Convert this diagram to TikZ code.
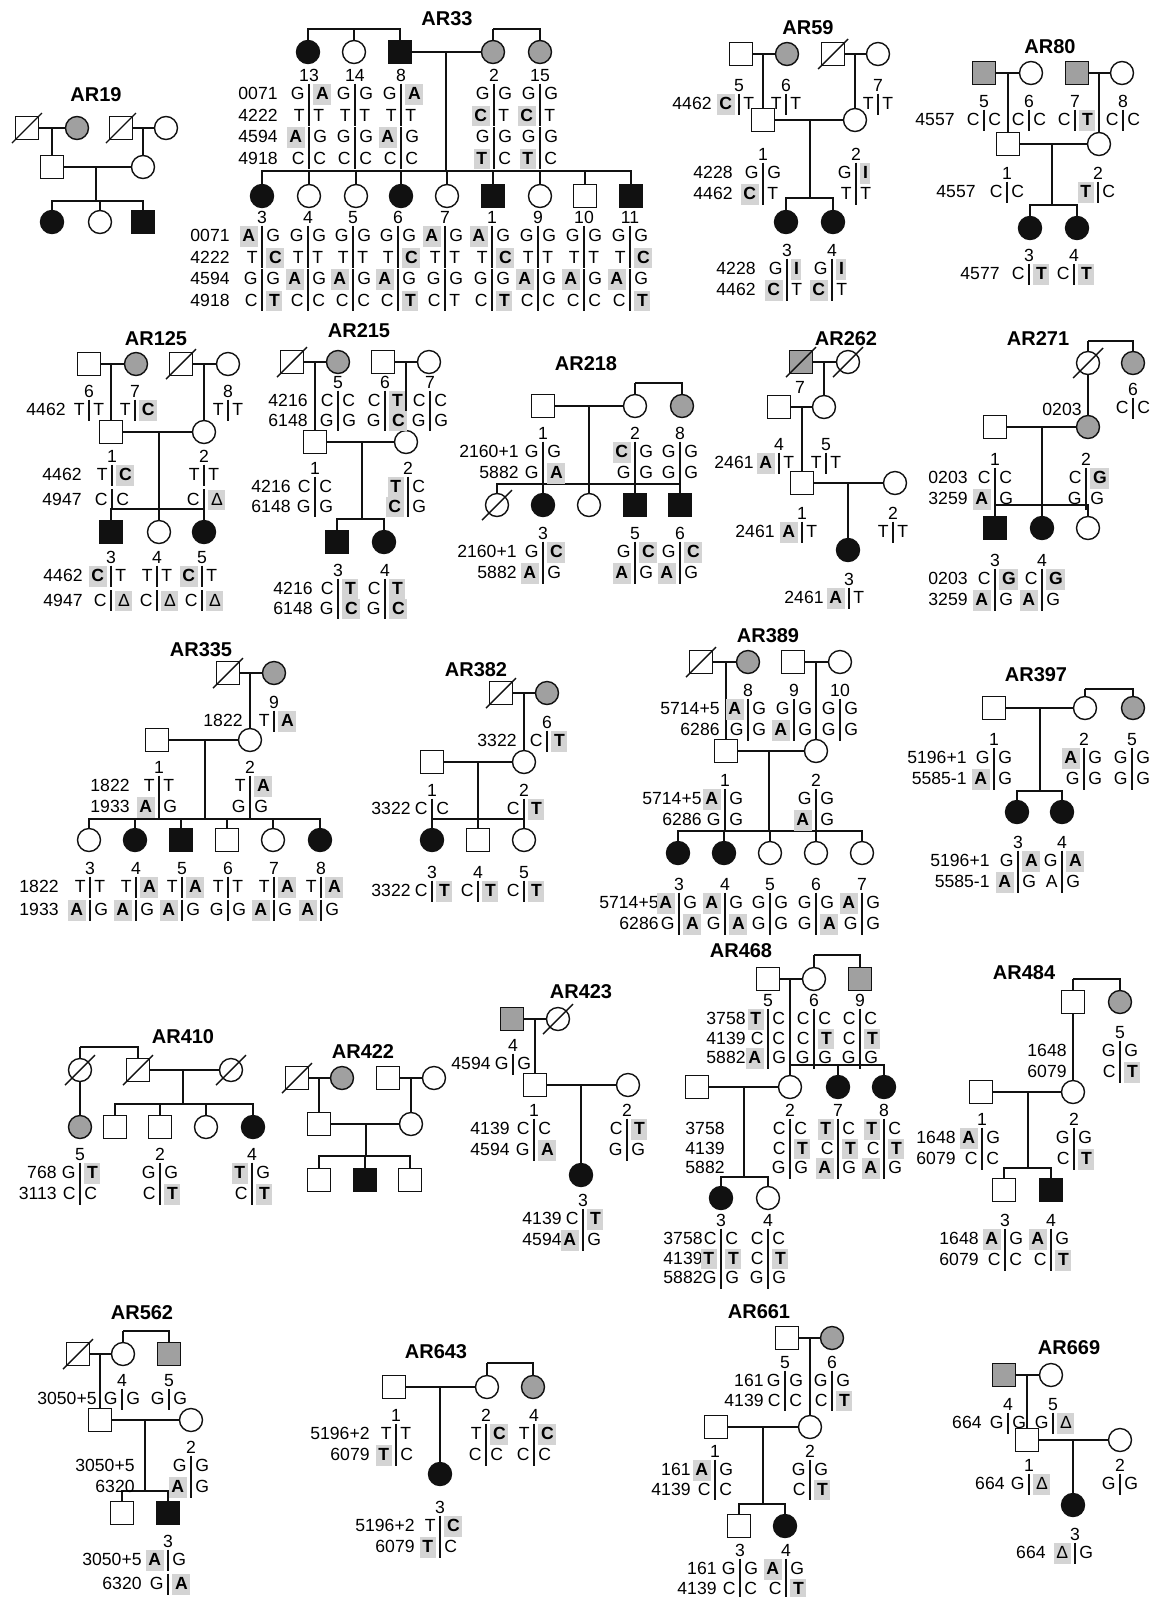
\documentclass[tikz,border=0pt]{standalone}
\usepackage{fontspec}
\setmainfont{Liberation Sans}
\definecolor{pedInk}{HTML}{111111}
\definecolor{pedCarrier}{HTML}{A0A0A0}
\definecolor{pedShade}{HTML}{D4D4D4}
\newcommand{\mut}[1]{{\setlength{\fboxsep}{0pt}\colorbox{pedShade}{\hspace{1.3pt}\rule[-2.6pt]{0pt}{10.2pt}\textbf{#1}\hspace{1.3pt}}}}
\newcommand{\mutd}{{\setlength{\fboxsep}{0pt}\colorbox{pedShade}{\hspace{1.3pt}\rule[-2.6pt]{0pt}{10.2pt}Δ\hspace{1.3pt}}}}
\newcommand{\gtpitch}{21}
\newcounter{gtno}
% bar x, centre of first row, number, list of left/right alleles
\newcommand{\gt}[4]{%
  \stepcounter{gtno}%
  \node[idno] (gt\arabic{gtno}) at (#1,#2-11.5) {#3};
  \foreach \la/\ra [count=\k from 0] in {#4}{%
    \node[allele,anchor=base east] (gt\arabic{gtno}l\k) at (#1-4,#2+6.5+\gtpitch*\k) {\la};
    \node[allele,anchor=base west] (gt\arabic{gtno}r\k) at (#1+4,#2+6.5+\gtpitch*\k) {\ra};
    \draw[genobar] (#1,#2-9.5+\gtpitch*\k) -- (#1,#2+11.5+\gtpitch*\k);
  }}
% right edge, centre of first row, list of loci
\newcommand{\loci}[3]{%
  \stepcounter{gtno}%
  \foreach \lb [count=\k from 0] in {#3}{%
    \node[locus] (lc\arabic{gtno}n\k) at (#1,#2+6.5+\gtpitch*\k) {\lb};}}

\begin{document}
\begin{tikzpicture}[
    x=0.5pt,y=-0.5pt,
    every node/.style={font=\fontsize{8.8}{10}\selectfont,inner sep=0pt},
    male/.style={draw=pedInk,rectangle,line width=0.7pt,minimum size=11.5pt},
    female/.style={draw=pedInk,circle,line width=0.7pt,minimum size=11.5pt},
    aff/.style={fill=pedInk},
    carrier/.style={fill=pedCarrier},
    slash/.style={draw=pedInk,line width=0.7pt},
    dead/.style={append after command={([shift={(-7.5pt,-7.5pt)}]\tikzlastnode.center) edge[slash] ([shift={(7.5pt,7.5pt)}]\tikzlastnode.center)}},
    title/.style={font=\bfseries\fontsize{10}{12}\selectfont},
    idno/.style={anchor=base},
    allele/.style={},
    locus/.style={anchor=base east},
    pedline/.style={draw=pedInk,line width=0.55pt},
    genobar/.style={draw=pedInk,line width=1.2pt}
]
\path[use as bounding box,fill=white] (0,0) rectangle (1159,1597);

% AR19
\node[title] (t19) at (96,95) {AR19};
\node[male,dead] (p19a) at (27,128) {};
\node[female,carrier] (p19b) at (77,128) {};
\node[male,dead] (p19c) at (121,128) {};
\node[female] (p19d) at (166,128) {};
\node[male] (p19e) at (52,167) {};
\node[female] (p19f) at (143,167) {};
\node[female,aff] (p19g) at (52,222) {};
\node[female] (p19h) at (100,222) {};
\node[male,aff] (p19i) at (143,222) {};
\coordinate (c19a) at (52,128);
\coordinate (c19b) at (143,128);
\coordinate (c19c) at (96,167);
\coordinate (s19) at (96,201);
\draw[pedline] (p19a) -- (p19b) (p19c) -- (p19d) (c19a) -- (p19e) (c19b) -- (p19f);
\draw[pedline] (p19e) -- (p19f) (c19c) -- (s19);
\foreach \c in {p19g,p19h,p19i} \draw[pedline] (s19) -| (\c);

% AR33
\renewcommand{\gtpitch}{21.5}
\node[title] (t33) at (447,19) {AR33};
\node[female,aff] (p33i13) at (308,52) {};
\node[female] (p33i14) at (354,52) {};
\node[male,aff] (p33i8) at (400,52) {};
\node[female,carrier] (p33i2) at (493,52) {};
\node[female,carrier] (p33i15) at (540,52) {};
\coordinate (c33a) at (354,29);
\coordinate (c33b) at (493,29);
\coordinate (c33c) at (446,52);
\coordinate (s33) at (446,171);
\draw[pedline] (c33a) -| (p33i13) (c33a) -| (p33i8) (c33a) -- (p33i14);
\draw[pedline] (c33b) -| (p33i15) (c33b) -- (p33i2);
\draw[pedline] (p33i8) -- (p33i2) (c33c) -- (s33);
\node[female,aff] (p33i3) at (262,196) {};
\node[female] (p33i4) at (309,196) {};
\node[female] (p33i5) at (356,196) {};
\node[female,aff] (p33i6) at (401,196) {};
\node[female] (p33i7) at (447,196) {};
\node[male,aff] (p33i1) at (493,196) {};
\node[female] (p33i9) at (540,196) {};
\node[male] (p33i10) at (585,196) {};
\node[male,aff] (p33i11) at (631,196) {};
\foreach \c in {p33i3,p33i4,p33i5,p33i6,p33i7,p33i1,p33i9,p33i10,p33i11} \draw[pedline] (s33) -| (\c);
\loci{278}{93}{0071,4222,4594,4918}
\gt{309}{93}{13}{G/\mut{A},T/T,\mut{A}/G,C/C}
\gt{355}{93}{14}{G/G,T/T,G/G,C/C}
\gt{401}{93}{8}{G/\mut{A},T/T,\mut{A}/G,C/C}
\gt{494}{93}{2}{G/G,\mut{C}/T,G/G,\mut{T}/C}
\gt{540}{93}{15}{G/G,\mut{C}/T,G/G,\mut{T}/C}
\loci{230}{235}{0071,4222,4594,4918}
\gt{262}{235}{3}{\mut{A}/G,T/\mut{C},G/G,C/\mut{T}}
\gt{308}{235}{4}{G/G,T/T,\mut{A}/G,C/C}
\gt{353}{235}{5}{G/G,T/T,\mut{A}/G,C/C}
\gt{398}{235}{6}{G/G,T/\mut{C},\mut{A}/G,C/\mut{T}}
\gt{445}{235}{7}{\mut{A}/G,T/T,G/G,C/T}
\gt{492}{235}{1}{\mut{A}/G,T/\mut{C},G/G,C/\mut{T}}
\gt{538}{235}{9}{G/G,T/T,\mut{A}/G,C/C}
\gt{584}{235}{10}{G/G,T/T,\mut{A}/G,C/C}
\gt{630}{235}{11}{G/G,T/\mut{C},\mut{A}/G,C/\mut{T}}
\renewcommand{\gtpitch}{21}

% AR59
\node[title] (t59) at (808,28) {AR59};
\node[male] (p59i5) at (741,54) {};
\node[female,carrier] (p59i6) at (787,54) {};
\node[male,dead] (p59a) at (833,54) {};
\node[female] (p59i7) at (878,54) {};
\node[male] (p59i1) at (763,120) {};
\node[female] (p59i2) at (855,120) {};
\node[female,aff] (p59i3) at (786,222) {};
\node[female,aff] (p59i4) at (833,222) {};
\coordinate (c59a) at (763,54);
\coordinate (c59b) at (855,54);
\coordinate (c59c) at (810,120);
\coordinate (s59) at (810,198);
\draw[pedline] (p59i5) -- (p59i6) (p59a) -- (p59i7) (c59a) -- (p59i1) (c59b) -- (p59i2);
\draw[pedline] (p59i1) -- (p59i2) (c59c) -- (s59);
\foreach \c in {p59i3,p59i4} \draw[pedline] (s59) -| (\c);
\loci{712}{103}{4462}
\gt{739}{103}{5}{\mut{C}/T}
\gt{786}{103}{6}{T/T}
\gt{878}{103}{7}{T/T}
\loci{733}{172}{4228,4462}
\gt{763}{172}{1}{G/G,\mut{C}/T}
\gt{856}{172}{2}{G/\mut{I},T/T}
\loci{756}{268}{4228,4462}
\gt{787}{268}{3}{G/\mut{I},\mut{C}/T}
\gt{832}{268}{4}{G/\mut{I},\mut{C}/T}

% AR80
\node[title] (t80) at (1050,47) {AR80};
\node[male,carrier] (p80i5) at (984,73) {};
\node[female] (p80i6) at (1031,73) {};
\node[male,carrier] (p80i7) at (1077,73) {};
\node[female] (p80i8) at (1122,73) {};
\node[male] (p80i1) at (1008,144) {};
\node[female] (p80i2) at (1099,144) {};
\node[female,aff] (p80i3) at (1030,228) {};
\node[female,aff] (p80i4) at (1077,228) {};
\coordinate (c80a) at (1008,73);
\coordinate (c80b) at (1099,73);
\coordinate (c80c) at (1052,144);
\coordinate (s80) at (1052,205);
\draw[pedline] (p80i5) -- (p80i6) (p80i7) -- (p80i8) (c80a) -- (p80i1) (c80b) -- (p80i2);
\draw[pedline] (p80i1) -- (p80i2) (c80c) -- (s80);
\foreach \c in {p80i3,p80i4} \draw[pedline] (s80) -| (\c);
\loci{955}{119}{4557}
\gt{984}{119}{5}{C/C}
\gt{1029}{119}{6}{C/C}
\gt{1075}{119}{7}{C/\mut{T}}
\gt{1123}{119}{8}{C/C}
\loci{976}{191}{4557}
\gt{1007}{191}{1}{C/C}
\gt{1098}{191}{2}{\mut{T}/C}
\loci{1000}{273}{4577}
\gt{1029}{273}{3}{C/\mut{T}}
\gt{1074}{273}{4}{C/\mut{T}}

% AR125
\node[title] (t125) at (156,339) {AR125};
\node[male] (p125i6) at (89,364) {};
\node[female,carrier] (p125i7) at (136,364) {};
\node[male,dead] (p125a) at (181,364) {};
\node[female] (p125i8) at (228,364) {};
\node[male] (p125i1) at (111,432) {};
\node[female] (p125i2) at (204,432) {};
\node[male,aff] (p125i3) at (111,532) {};
\node[female] (p125i4) at (159,532) {};
\node[female,aff] (p125i5) at (204,532) {};
\coordinate (c125a) at (111,364);
\coordinate (c125b) at (204,364);
\coordinate (c125c) at (159,432);
\coordinate (s125) at (159,509);
\draw[pedline] (p125i6) -- (p125i7) (p125a) -- (p125i8) (c125a) -- (p125i1) (c125b) -- (p125i2);
\draw[pedline] (p125i1) -- (p125i2) (c125c) -- (s125);
\foreach \c in {p125i3,p125i4,p125i5} \draw[pedline] (s125) -| (\c);
\loci{66}{409}{4462}
\gt{89}{409}{6}{T/T}
\gt{135}{409}{7}{T/\mut{C}}
\gt{228}{409}{8}{T/T}
\renewcommand{\gtpitch}{24.5}
\loci{82}{474}{4462,4947}
\gt{112}{474}{1}{T/\mut{C},C/C}
\gt{204}{474}{2}{T/T,C/\mutd}
\loci{83}{575}{4462,4947}
\gt{111}{575}{3}{\mut{C}/T,C/\mutd}
\gt{157}{575}{4}{T/T,C/\mutd}
\gt{202}{575}{5}{\mut{C}/T,C/\mutd}

% AR215
\renewcommand{\gtpitch}{19.5}
\node[title] (t215) at (359,331) {AR215};
\node[male,dead] (p215a) at (292,362) {};
\node[female,carrier] (p215i5) at (338,362) {};
\node[male] (p215i6) at (383,362) {};
\node[female] (p215i7) at (429,362) {};
\node[male] (p215i1) at (315,442) {};
\node[female] (p215i2) at (406,442) {};
\node[male,aff] (p215i3) at (337,542) {};
\node[female,aff] (p215i4) at (384,542) {};
\coordinate (c215a) at (315,362);
\coordinate (c215b) at (406,362);
\coordinate (c215c) at (362,442);
\coordinate (s215) at (362,519);
\draw[pedline] (p215a) -- (p215i5) (p215i6) -- (p215i7) (c215a) -- (p215i1) (c215b) -- (p215i2);
\draw[pedline] (p215i1) -- (p215i2) (c215c) -- (s215);
\foreach \c in {p215i3,p215i4} \draw[pedline] (s215) -| (\c);
\loci{308}{400}{4216,6148}
\gt{338}{400}{5}{C/C,G/G}
\gt{385}{400}{6}{C/\mut{T},G/\mut{C}}
\gt{430}{400}{7}{C/C,G/G}
\loci{291}{486}{4216,6148}
\gt{315}{486}{1}{C/C,G/G}
\gt{408}{486}{2}{\mut{T}/C,\mut{C}/G}
\loci{313}{588}{4216,6148}
\gt{338}{588}{3}{C/\mut{T},G/\mut{C}}
\gt{385}{588}{4}{C/\mut{T},G/\mut{C}}
\renewcommand{\gtpitch}{21}

% AR218
\node[title] (t218) at (586,364) {AR218};
\node[male] (p218i1) at (543,406) {};
\node[female] (p218i2) at (635,406) {};
\node[female,carrier] (p218i8) at (682,406) {};
\node[female,dead] (p218a) at (497,505) {};
\node[female,aff] (p218i3) at (543,505) {};
\node[female] (p218b) at (589,505) {};
\node[male,aff] (p218i5) at (635,505) {};
\node[male,aff] (p218i6) at (680,505) {};
\coordinate (c218a) at (635,383);
\coordinate (c218b) at (589,406);
\coordinate (s218) at (589,484);
\draw[pedline] (c218a) -| (p218i8) (c218a) -- (p218i2);
\draw[pedline] (p218i1) -- (p218i2) (c218b) -- (s218);
\foreach \c in {p218a,p218i3,p218b,p218i5,p218i6} \draw[pedline] (s218) -| (\c);
\loci{519}{451}{2160+1,5882}
\gt{543}{451}{1}{G/G,G/\mut{A}}
\gt{635}{451}{2}{\mut{C}/G,G/G}
\gt{680}{451}{8}{G/G,G/G}
\loci{517}{551}{2160+1,5882}
\gt{543}{551}{3}{G/\mut{C},\mut{A}/G}
\gt{635}{551}{5}{G/\mut{C},\mut{A}/G}
\gt{680}{551}{6}{G/\mut{C},\mut{A}/G}

% AR262
\node[title] (t262) at (846,339) {AR262};
\node[male,carrier,dead] (p262i7) at (801,362) {};
\node[female,dead] (p262a) at (848,362) {};
\node[idno] (n262) at (800,393) {7};
\node[male] (p262i4) at (779,407) {};
\node[female] (p262i5) at (824,407) {};
\node[male] (p262i1) at (802,483) {};
\node[female] (p262i2) at (895,483) {};
\node[female,aff] (p262i3) at (848,550) {};
\coordinate (c262a) at (824,362);
\coordinate (c262b) at (802,407);
\coordinate (c262c) at (848,483);
\draw[pedline] (p262i7) -- (p262a) (c262a) -- (p262i5);
\draw[pedline] (p262i4) -- (p262i5) (c262b) -- (p262i1);
\draw[pedline] (p262i1) -- (p262i2) (c262c) -- (p262i3);
\loci{754}{462}{2461}
\gt{779}{462}{4}{\mut{A}/T}
\gt{826}{462}{5}{T/T}
\loci{775}{531}{2461}
\gt{802}{531}{1}{\mut{A}/T}
\gt{893}{531}{2}{T/T}
\loci{824}{597}{2461}
\gt{849}{597}{3}{\mut{A}/T}

% AR271
\node[title] (t271) at (1038,339) {AR271};
\node[female,dead] (p271a) at (1088,363) {};
\node[female,carrier] (p271b) at (1133,363) {};
\node[male] (p271i1) at (995,427) {};
\node[female,carrier] (p271i2) at (1088,427) {};
\node[male,aff] (p271i3) at (995,528) {};
\node[female,aff] (p271i4) at (1042,528) {};
\node[female] (p271c) at (1088,528) {};
\coordinate (c271a) at (1088,341);
\coordinate (c271b) at (1042,427);
\coordinate (s271) at (1042,505);
\draw[pedline] (c271a) -| (p271b) (c271a) -- (p271a) (p271a) -- (p271i2);
\draw[pedline] (p271i1) -- (p271i2) (c271b) -- (s271);
\foreach \c in {p271i3,p271i4,p271c} \draw[pedline] (s271) -| (\c);
\loci{1082}{409}{0203}
\gt{1133}{407}{6}{C/C}
\loci{968}{477}{0203,3259}
\gt{995}{477}{1}{C/C,\mut{A}/G}
\gt{1086}{477}{2}{C/\mut{G},G/G}
\loci{968}{578}{0203,3259}
\gt{995}{578}{3}{C/\mut{G},\mut{A}/G}
\gt{1042}{578}{4}{C/\mut{G},\mut{A}/G}

% AR335
\node[title] (t335) at (201,650) {AR335};
\node[male,dead] (p335a) at (228,673) {};
\node[female,carrier] (p335i9) at (274,673) {};
\node[male] (p335i1) at (157,740) {};
\node[female] (p335i2) at (250,740) {};
\node[female] (p335i3) at (89,840) {};
\node[female,aff] (p335i4) at (135,840) {};
\node[male,aff] (p335i5) at (181,840) {};
\node[male] (p335i6) at (227,840) {};
\node[female] (p335i7) at (273,840) {};
\node[female,aff] (p335i8) at (320,840) {};
\coordinate (c335a) at (250,673);
\coordinate (c335b) at (205,740);
\coordinate (s335) at (205,819);
\draw[pedline] (p335a) -- (p335i9) (c335a) -- (p335i2);
\draw[pedline] (p335i1) -- (p335i2) (c335b) -- (s335);
\foreach \c in {p335i3,p335i4,p335i5,p335i6,p335i7,p335i8} \draw[pedline] (s335) -| (\c);
\loci{243}{720}{1822}
\gt{274}{720}{9}{T/\mut{A}}
\loci{130}{785}{1822,1933}
\gt{159}{785}{1}{T/T,\mut{A}/G}
\gt{250}{785}{2}{T/\mut{A},G/G}
\renewcommand{\gtpitch}{23}
\loci{59}{886}{1822,1933}
\gt{90}{886}{3}{T/T,\mut{A}/G}
\gt{136}{886}{4}{T/\mut{A},\mut{A}/G}
\gt{182}{886}{5}{T/\mut{A},\mut{A}/G}
\gt{228}{886}{6}{T/T,G/G}
\gt{274}{886}{7}{T/\mut{A},\mut{A}/G}
\gt{321}{886}{8}{T/\mut{A},\mut{A}/G}
\renewcommand{\gtpitch}{21}

% AR382
\node[title] (t382) at (476,670) {AR382};
\node[male,dead] (p382a) at (501,693) {};
\node[female,carrier] (p382i6) at (547,693) {};
\node[male] (p382i1) at (432,762) {};
\node[female] (p382i2) at (524,762) {};
\node[female,aff] (p382i3) at (432,840) {};
\node[male] (p382i4) at (478,840) {};
\node[female] (p382i5) at (524,840) {};
\coordinate (c382a) at (524,693);
\coordinate (c382b) at (478,762);
\coordinate (s382) at (478,819);
\draw[pedline] (p382a) -- (p382i6) (c382a) -- (p382i2);
\draw[pedline] (p382i1) -- (p382i2) (c382b) -- (s382);
\foreach \c in {p382i3,p382i4,p382i5} \draw[pedline] (s382) -| (\c);
\loci{517}{740}{3322}
\gt{547}{740}{6}{C/\mut{T}}
\loci{411}{808}{3322}
\gt{432}{808}{1}{C/C}
\gt{524}{808}{2}{C/\mut{T}}
\loci{411}{890}{3322}
\gt{432}{890}{3}{C/\mut{T}}
\gt{478}{890}{4}{C/\mut{T}}
\gt{524}{890}{5}{C/\mut{T}}

% AR389
\node[title] (t389) at (768,636) {AR389};
\node[male,dead] (p389a) at (701,662) {};
\node[female,carrier] (p389i8) at (748,662) {};
\node[male] (p389i9) at (793,662) {};
\node[female] (p389i10) at (840,662) {};
\node[male] (p389i1) at (726,751) {};
\node[female] (p389i2) at (816,751) {};
\node[female,aff] (p389i3) at (678,853) {};
\node[female,aff] (p389i4) at (724,853) {};
\node[female] (p389i5) at (770,853) {};
\node[female] (p389i6) at (816,853) {};
\node[female] (p389i7) at (862,853) {};
\coordinate (c389a) at (726,662);
\coordinate (c389b) at (816,662);
\coordinate (c389c) at (769,751);
\coordinate (s389) at (769,831);
\draw[pedline] (p389a) -- (p389i8) (p389i9) -- (p389i10) (c389a) -- (p389i1) (c389b) -- (p389i2);
\draw[pedline] (p389i1) -- (p389i2) (c389c) -- (s389);
\foreach \c in {p389i3,p389i4,p389i5,p389i6,p389i7} \draw[pedline] (s389) -| (\c);
\loci{720}{708}{5714+5,6286}
\gt{748}{708}{8}{\mut{A}/G,G/G}
\gt{794}{708}{9}{G/G,\mut{A}/G}
\gt{840}{708}{10}{G/G,G/G}
\loci{702}{798}{5714+5,6286}
\gt{725}{798}{1}{\mut{A}/G,G/G}
\gt{816}{798}{2}{G/G,\mut{A}/G}
\loci{659}{902}{5714+5,6286}
\gt{679}{902}{3}{\mut{A}/G,G/\mut{A}}
\gt{725}{902}{4}{\mut{A}/G,G/\mut{A}}
\gt{770}{902}{5}{G/G,G/G}
\gt{816}{902}{6}{G/G,G/\mut{A}}
\gt{862}{902}{7}{\mut{A}/G,G/G}

% AR397
\node[title] (t397) at (1036,675) {AR397};
\node[male] (p397i1) at (994,708) {};
\node[female] (p397i2) at (1085,708) {};
\node[female,carrier] (p397i5) at (1133,708) {};
\node[female,aff] (p397i3) at (1017,812) {};
\node[female,aff] (p397i4) at (1062,812) {};
\coordinate (c397a) at (1085,689);
\coordinate (c397b) at (1040,708);
\coordinate (s397) at (1040,791);
\draw[pedline] (c397a) -| (p397i5) (c397a) -- (p397i2);
\draw[pedline] (p397i1) -- (p397i2) (c397b) -- (s397);
\foreach \c in {p397i3,p397i4} \draw[pedline] (s397) -| (\c);
\loci{967}{757}{5196+1,5585-1}
\gt{994}{757}{1}{G/G,\mut{A}/G}
\gt{1084}{757}{2}{\mut{A}/G,G/G}
\gt{1132}{757}{5}{G/G,G/G}
\loci{990}{860}{5196+1,5585-1}
\gt{1018}{860}{3}{G/\mut{A},\mut{A}/G}
\gt{1062}{860}{4}{G/\mut{A},A/G}

% AR410
\node[title] (t410) at (183,1037) {AR410};
\node[female,dead] (p410a) at (80,1070) {};
\node[male,dead] (p410b) at (138,1070) {};
\node[female,dead] (p410c) at (231,1070) {};
\node[female,carrier] (p410i5) at (80,1127) {};
\node[male] (p410d) at (115,1127) {};
\node[male] (p410i2) at (160,1127) {};
\node[female] (p410e) at (206,1127) {};
\node[female,aff] (p410i4) at (253,1127) {};
\coordinate (c410a) at (80,1047);
\coordinate (c410b) at (183,1070);
\coordinate (s410) at (183,1104);
\draw[pedline] (c410a) -| (p410b) (c410a) -- (p410a) (p410a) -- (p410i5);
\draw[pedline] (p410b) -- (p410c) (c410b) -- (s410);
\foreach \c in {p410d,p410i2,p410e,p410i4} \draw[pedline] (s410) -| (\c);
\loci{57}{1172}{768,3113}
\gt{80}{1172}{5}{G/\mut{T},C/C}
\gt{160}{1172}{2}{G/G,C/\mut{T}}
\gt{252}{1172}{4}{\mut{T}/G,C/\mut{T}}

% AR422
\node[title] (t422) at (363,1052) {AR422};
\node[male,dead] (p422a) at (297,1078) {};
\node[female,carrier] (p422b) at (342,1078) {};
\node[male] (p422c) at (388,1078) {};
\node[female] (p422d) at (434,1078) {};
\node[male] (p422e) at (319,1124) {};
\node[female] (p422f) at (411,1124) {};
\node[male] (p422g) at (319,1180) {};
\node[male,aff] (p422h) at (365,1180) {};
\node[male] (p422i) at (410,1180) {};
\coordinate (c422a) at (319,1078);
\coordinate (c422b) at (411,1078);
\coordinate (c422c) at (366,1124);
\coordinate (s422) at (366,1156);
\draw[pedline] (p422a) -- (p422b) (p422c) -- (p422d) (c422a) -- (p422e) (c422b) -- (p422f);
\draw[pedline] (p422e) -- (p422f) (c422c) -- (s422);
\foreach \c in {p422g,p422h,p422i} \draw[pedline] (s422) -| (\c);

% AR423
\node[title] (t423) at (581,992) {AR423};
\node[male,carrier] (p423i4) at (512,1019) {};
\node[female,dead] (p423a) at (558,1019) {};
\node[male] (p423i1) at (535,1085) {};
\node[female] (p423i2) at (628,1085) {};
\node[female,aff] (p423i3) at (581,1175) {};
\coordinate (c423a) at (535,1019);
\coordinate (c423b) at (581,1085);
\draw[pedline] (p423i4) -- (p423a) (c423a) -- (p423i1);
\draw[pedline] (p423i1) -- (p423i2) (c423b) -- (p423i3);
\loci{491}{1063}{4594}
\gt{513}{1063}{4}{G/G}
\loci{510}{1128}{4139,4594}
\gt{534}{1128}{1}{C/C,G/\mut{A}}
\gt{627}{1128}{2}{C/\mut{T},G/G}
\loci{562}{1218}{4139,4594}
\gt{583}{1218}{3}{C/\mut{T},\mut{A}/G}

% AR468
\renewcommand{\gtpitch}{19.5}
\node[title] (t468) at (741,951) {AR468};
\node[male] (p468i5) at (768,979) {};
\node[female] (p468i6) at (814,979) {};
\node[male,carrier] (p468i9) at (860,979) {};
\node[male] (p468i1) at (697,1087) {};
\node[female] (p468i2) at (790,1087) {};
\node[female,aff] (p468i7) at (838,1087) {};
\node[female,aff] (p468i8) at (884,1087) {};
\node[female,aff] (p468i3) at (721,1198) {};
\node[female] (p468i4) at (768,1198) {};
\coordinate (c468a) at (814,955);
\coordinate (c468b) at (790,979);
\coordinate (s468a) at (790,1065);
\coordinate (c468c) at (744,1087);
\coordinate (s468b) at (744,1177);
\draw[pedline] (c468a) -| (p468i9) (c468a) -- (p468i6);
\draw[pedline] (p468i5) -- (p468i6) (c468b) -- (p468i2);
\draw[pedline] (s468a) -| (p468i7) (s468a) -| (p468i8);
\draw[pedline] (p468i1) -- (p468i2) (c468c) -- (s468b);
\foreach \c in {p468i3,p468i4} \draw[pedline] (s468b) -| (\c);
\loci{746}{1018}{3758,4139,5882}
\gt{768}{1018}{5}{\mut{T}/C,C/C,\mut{A}/G}
\gt{814}{1018}{6}{C/C,C/\mut{T},G/G}
\gt{860}{1018}{9}{C/C,C/\mut{T},G/G}
\loci{725}{1128}{3758,4139,5882}
\gt{790}{1128}{2}{C/C,C/\mut{T},G/G}
\gt{838}{1128}{7}{\mut{T}/C,C/\mut{T},\mut{A}/G}
\gt{884}{1128}{8}{\mut{T}/C,C/\mut{T},\mut{A}/G}
\loci{703}{1238}{3758,4139,5882}
\gt{721}{1238}{3}{C/C,\mut{T}/\mut{T},G/G}
\gt{768}{1238}{4}{C/C,C/\mut{T},G/G}
\renewcommand{\gtpitch}{21}

% AR484
\node[title] (t484) at (1024,973) {AR484};
\node[male] (p484a) at (1073,1002) {};
\node[female,carrier] (p484i5) at (1120,1002) {};
\node[male] (p484i1) at (981,1092) {};
\node[female] (p484i2) at (1073,1092) {};
\node[male] (p484i3) at (1004,1190) {};
\node[male,aff] (p484i4) at (1051,1190) {};
\coordinate (c484a) at (1073,979);
\coordinate (c484b) at (1028,1092);
\coordinate (s484) at (1028,1168);
\draw[pedline] (c484a) -| (p484i5) (c484a) -- (p484a) (p484a) -- (p484i2);
\draw[pedline] (p484i1) -- (p484i2) (c484b) -- (s484);
\foreach \c in {p484i3,p484i4} \draw[pedline] (s484) -| (\c);
\loci{1067}{1050}{1648,6079}
\gt{1120}{1050}{5}{G/G,C/\mut{T}}
\loci{956}{1137}{1648,6079}
\gt{982}{1137}{1}{\mut{A}/G,C/C}
\gt{1074}{1137}{2}{G/G,C/\mut{T}}
\loci{979}{1238}{1648,6079}
\gt{1005}{1238}{3}{\mut{A}/G,C/C}
\gt{1051}{1238}{4}{\mut{A}/G,C/\mut{T}}

% AR562
\node[title] (t562) at (142,1313) {AR562};
\node[male,dead] (p562a) at (78,1354) {};
\node[female] (p562i4) at (123,1354) {};
\node[male,carrier] (p562i5) at (169,1354) {};
\node[male] (p562i1) at (100,1420) {};
\node[female] (p562i2) at (191,1420) {};
\node[male] (p562b) at (122,1513) {};
\node[male,aff] (p562i3) at (168,1513) {};
\coordinate (c562a) at (123,1331);
\coordinate (c562b) at (100,1354);
\coordinate (c562c) at (145,1420);
\coordinate (s562) at (145,1491);
\draw[pedline] (c562a) -| (p562i5) (c562a) -- (p562i4);
\draw[pedline] (p562a) -- (p562i4) (c562b) -- (p562i1);
\draw[pedline] (p562i1) -- (p562i2) (c562c) -- (s562);
\foreach \c in {p562b,p562i3} \draw[pedline] (s562) -| (\c);
\loci{97}{1398}{3050+5}
\gt{122}{1398}{4}{G/G}
\gt{169}{1398}{5}{G/G}
\loci{135}{1465}{3050+5,6320}
\gt{191}{1465}{2}{G/G,\mut{A}/G}
\renewcommand{\gtpitch}{24}
\loci{142}{1559}{3050+5,6320}
\gt{168}{1559}{3}{\mut{A}/G,G/\mut{A}}
\renewcommand{\gtpitch}{21}

% AR643
\node[title] (t643) at (436,1352) {AR643};
\node[male] (p643i1) at (394,1387) {};
\node[female] (p643i2) at (487,1387) {};
\node[female,carrier] (p643i4) at (533,1387) {};
\node[female,aff] (p643i3) at (440,1474) {};
\coordinate (c643a) at (487,1363);
\coordinate (c643b) at (440,1387);
\draw[pedline] (c643a) -| (p643i4) (c643a) -- (p643i2);
\draw[pedline] (p643i1) -- (p643i2) (c643b) -- (p643i3);
\loci{370}{1433}{5196+2,6079}
\gt{396}{1433}{1}{T/T,\mut{T}/C}
\gt{486}{1433}{2}{T/\mut{C},C/C}
\gt{534}{1433}{4}{T/\mut{C},C/C}
\loci{415}{1525}{5196+2,6079}
\gt{440}{1525}{3}{T/\mut{C},\mut{T}/C}

% AR661
\renewcommand{\gtpitch}{19.5}
\node[title] (t661) at (759,1312) {AR661};
\node[male] (p661i5) at (787,1338) {};
\node[female,carrier] (p661i6) at (832,1338) {};
\node[male] (p661i1) at (716,1427) {};
\node[female] (p661i2) at (810,1427) {};
\node[male] (p661i3) at (739,1526) {};
\node[female,aff] (p661i4) at (785,1526) {};
\coordinate (c661a) at (810,1338);
\coordinate (c661b) at (763,1427);
\coordinate (s661) at (763,1504);
\draw[pedline] (p661i5) -- (p661i6) (c661a) -- (p661i2);
\draw[pedline] (p661i1) -- (p661i2) (c661b) -- (s661);
\foreach \c in {p661i3,p661i4} \draw[pedline] (s661) -| (\c);
\loci{764}{1380}{161,4139}
\gt{785}{1380}{5}{G/G,C/C}
\gt{832}{1380}{6}{G/G,C/\mut{T}}
\loci{691}{1469}{161,4139}
\gt{715}{1469}{1}{\mut{A}/G,C/C}
\gt{810}{1469}{2}{G/G,C/\mut{T}}
\loci{717}{1568}{161,4139}
\gt{740}{1568}{3}{G/G,C/C}
\gt{786}{1568}{4}{\mut{A}/G,C/\mut{T}}
\renewcommand{\gtpitch}{21}

% AR669
\node[title] (t669) at (1069,1348) {AR669};
\node[male,carrier] (p669i4) at (1004,1375) {};
\node[female] (p669i5) at (1051,1375) {};
\node[male] (p669i1) at (1027,1440) {};
\node[female] (p669i2) at (1120,1440) {};
\node[female,aff] (p669i3) at (1073,1505) {};
\coordinate (c669a) at (1027,1375);
\coordinate (c669b) at (1073,1440);
\draw[pedline] (p669i4) -- (p669i5) (c669a) -- (p669i1);
\draw[pedline] (p669i1) -- (p669i2) (c669b) -- (p669i3);
\loci{982}{1422}{664}
\gt{1008}{1422}{4}{G/G}
\gt{1053}{1422}{5}{G/\mutd}
\loci{1005}{1483}{664}
\gt{1029}{1483}{1}{G/\mutd}
\gt{1120}{1483}{2}{G/G}
\loci{1046}{1552}{664}
\gt{1075}{1552}{3}{\mutd/G}
\end{tikzpicture}
\end{document}
